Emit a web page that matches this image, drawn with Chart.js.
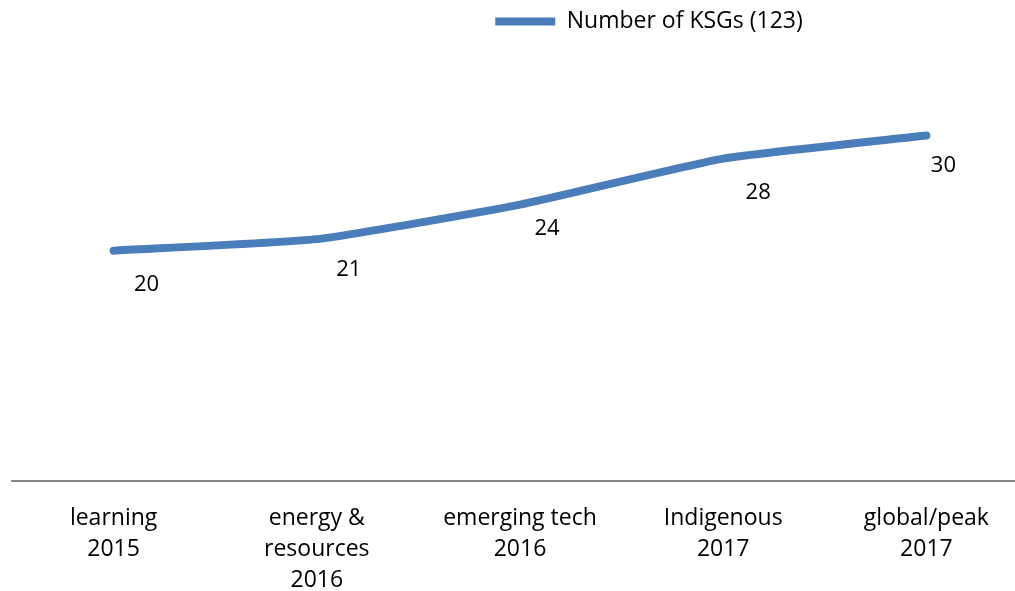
<!DOCTYPE html>
<html>
<head>
<meta charset="utf-8">
<script src="https://cdn.jsdelivr.net/npm/chart.js@4/dist/chart.umd.min.js"></script>
<style>
  html, body { margin: 0; padding: 0; background: #fff; overflow: hidden; }
  #wrap { width: 1015px; height: 591px; overflow: hidden; }
</style>
</head>
<body>
<!-- plot runs slightly past the right edge in the original, so the canvas is a bit wider than the window -->
<div id="wrap"><canvas id="ksgChart" width="1028" height="591"></canvas></div>
<script>
// --- data ---
const categories = [
    ['learning', '2015'],
    ['energy &', 'resources', '2016'],
    ['emerging tech', '2016'],
    ['Indigenous', '2017'],
    ['global/peak', '2017']
];
const ksgCounts = [20, 21, 24, 28, 30];
const seriesName = 'Number of KSGs (123)';

// label nudges (px) relative to each point
const labelNudge = [[33, 34], [32, 31], [27, 24], [35, 34], [17, 30]];

const FONT = '"Open Sans", Lato, sans-serif';

// draws the value labels under the line
const valueLabels = {
    id: 'valueLabels',
    afterDatasetsDraw(chart) {
        const ctx = chart.ctx;
        const meta = chart.getDatasetMeta(0);
        ctx.save();
        ctx.font = '22px ' + FONT;
        ctx.fillStyle = '#000';
        ctx.textAlign = 'center';
        ctx.textBaseline = 'middle';
        meta.data.forEach((pt, i) => {
            const n = labelNudge[i] || [30, 30];
            ctx.fillText(String(ksgCounts[i]), pt.x + n[0], pt.y + n[1]);
        });
        ctx.restore();
    }
};

// legend sits right of centre in the original, with a gap under it
const legendTweak = {
    id: 'legendTweak',
    afterInit(chart) {
        const lg = chart.legend;
        if (!lg || lg._tweaked) return;
        const origFit = lg.fit.bind(lg);
        lg.fit = function () {
            origFit();
            this.height += 35;
        };
        lg._tweaked = true;
    },
    afterLayout(chart) {
        const lg = chart.legend;
        if (!lg) return;
        lg.left += 129;
        lg.right += 129;
    }
};

new Chart(document.getElementById('ksgChart'), {
    type: 'line',
    data: {
        labels: categories,
        datasets: [{
            label: seriesName,
            data: ksgCounts,
            borderColor: '#4a7ebb',
            backgroundColor: '#4a7ebb',
            borderWidth: 8,
            borderCapStyle: 'round',
            borderJoinStyle: 'round',
            pointRadius: 0,
            pointHoverRadius: 0,
            pointStyle: 'line',
            tension: 0.15,
            fill: false
        }]
    },
    options: {
        responsive: false,
        animation: false,
        events: [],
        layout: { padding: { left: 12, right: 0, top: 0, bottom: -27 } },
        plugins: {
            legend: {
                position: 'top',
                labels: {
                    usePointStyle: true,
                    pointStyleWidth: 60,
                    boxHeight: 8,
                    color: '#000',
                    font: { family: FONT, size: 23 },
                    padding: 10
                }
            },
            tooltip: { enabled: false }
        },
        scales: {
            x: {
                offset: true,
                grid: { display: false, drawTicks: false },
                border: { display: true, color: '#868686', width: 2 },
                ticks: {
                    color: '#000',
                    font: { family: FONT, size: 23, lineHeight: 1.35 },
                    padding: 22,
                    maxRotation: 0,
                    autoSkip: false
                }
            },
            y: {
                display: false,
                min: 0,
                max: 35
            }
        }
    },
    plugins: [valueLabels, legendTweak]
});
</script>
</body>
</html>
